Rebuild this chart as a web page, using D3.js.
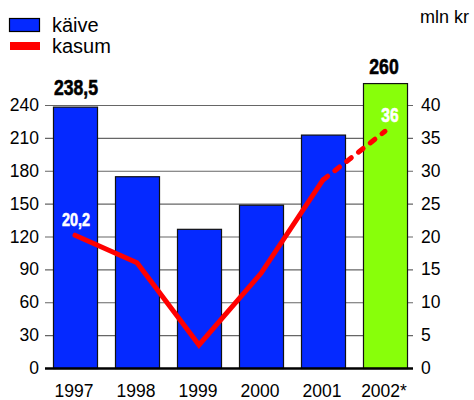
<!DOCTYPE html>
<html><head><meta charset="utf-8">
<script src="https://cdn.jsdelivr.net/npm/d3@7"></script>
<style>body{margin:0;background:#fff}svg{display:block}</style>
</head><body>
<svg id="c" width="474" height="400"></svg>
<script>
const years = ["1997","1998","1999","2000","2001","2002*"];
const kaive = [238.5, 175, 127, 149, 213, 260];
const kasum = [20.2, 16.0, 3.5, 14.4, 28.6, 36];
const leftTicks = [0,30,60,90,120,150,180,210,240];
const rightTicks = [0,5,10,15,20,25,30,35,40];
const valueLabels = [{i:0, text:"238,5"}, {i:5, text:"260"}];
const lineLabels = [{i:0, text:"20,2"}, {i:5, text:"36"}];
const legendItems = ["käive","kasum"];
const unitLabel = "mln kr";

const svg = d3.select("#c");
const font = "'Liberation Sans', Arial, Helvetica, sans-serif";
const x = d3.scaleBand().domain(years).range([44,416]).paddingInner(0.29).paddingOuter(0.145);
const y = d3.scaleLinear().domain([0,240]).range([368,105]);
const y2 = d3.scaleLinear().domain([0,40]).range([368,105]);

// gridlines
svg.append("g").selectAll("line").data(leftTicks.filter(d=>d>0)).join("line")
  .attr("x1",45).attr("x2",413).attr("y1",d=>y(d)+0.5).attr("y2",d=>y(d)+0.5)
  .attr("stroke","#666").attr("stroke-width",1.2);

// left labels
svg.append("g").selectAll("text").data(leftTicks).join("text")
  .attr("x",39).attr("y",d=>y(d)+6).attr("text-anchor","end")
  .attr("font-family",font).attr("font-size",17.5).attr("fill","#000").text(d=>d);
// right labels
svg.append("g").selectAll("text").data(rightTicks).join("text")
  .attr("x",421).attr("y",d=>y2(d)+6).attr("text-anchor","start")
  .attr("font-family",font).attr("font-size",17.5).attr("fill","#000").text(d=>d);

// bars
svg.append("g").selectAll("rect").data(years).join("rect")
  .attr("x",d=>x(d)+0.5).attr("width",x.bandwidth())
  .attr("y",(d,i)=>y(kaive[i])+0.5).attr("height",(d,i)=>y(0)-y(kaive[i]))
  .attr("fill",(d,i)=>i===5?"#88ff0a":"#0529ff")
  .attr("stroke","#111").attr("stroke-width",1.2);

// baseline
svg.append("line").attr("x1",45).attr("x2",413).attr("y1",y(0)+0.5).attr("y2",y(0)+0.5)
  .attr("stroke","#000").attr("stroke-width",2.5);

// year labels
svg.append("g").selectAll("text").data(years).join("text")
  .attr("x",d=>x(d)+x.bandwidth()/2-1).attr("y",397).attr("text-anchor","middle")
  .attr("font-family",font).attr("font-size",17.5).attr("fill","#000").text(d=>d);

// line
const cx = i => x(years[i]) + x.bandwidth()/2;
const line = d3.line().x(d=>cx(d)).y(d=>y2(kasum[d]));
svg.append("path").attr("d",line([0,1,2,3,4])).attr("fill","none")
  .attr("stroke","#ff0000").attr("stroke-width",5).attr("stroke-linejoin","miter").attr("stroke-linecap","round");
svg.append("path").attr("d",line([4,5])).attr("fill","none")
  .attr("stroke","#ff0000").attr("stroke-width",5).attr("stroke-linecap","round")
  .attr("stroke-dasharray","6,9");

// value labels (condensed bold)
function condText(xp, yp, txt, size, color){
  svg.append("text").attr("transform",`translate(${xp},${yp}) scale(0.8,1)`)
    .attr("text-anchor","middle").attr("font-family",font).attr("font-weight","bold")
    .attr("font-size",size).attr("fill",color)
    .attr("stroke",color).attr("stroke-width",0.6).text(txt);
}
condText(cx(0)+1, 95, valueLabels[0].text, 22, "#000");
condText(cx(5)-1, 74, valueLabels[1].text, 22, "#000");
condText(cx(0)+1, 226, lineLabels[0].text, 18, "#fff");
condText(cx(5)+5, 122, lineLabels[1].text, 19.5, "#fff");

// legend
svg.append("rect").attr("x",9.5).attr("y",18.5).attr("width",30).attr("height",13)
  .attr("fill","#0529ff").attr("stroke","#000").attr("stroke-width",1.2);
svg.append("rect").attr("x",10).attr("y",42).attr("width",30).attr("height",8).attr("fill","#ff0000");
svg.append("text").attr("x",52).attr("y",32).attr("font-family",font).attr("font-size",20).text(legendItems[0]);
svg.append("text").attr("x",52).attr("y",53).attr("font-family",font).attr("font-size",20).text(legendItems[1]);
svg.append("text").attr("x",420).attr("y",23).attr("font-family",font).attr("font-size",18).text(unitLabel);
</script>
</body></html>
